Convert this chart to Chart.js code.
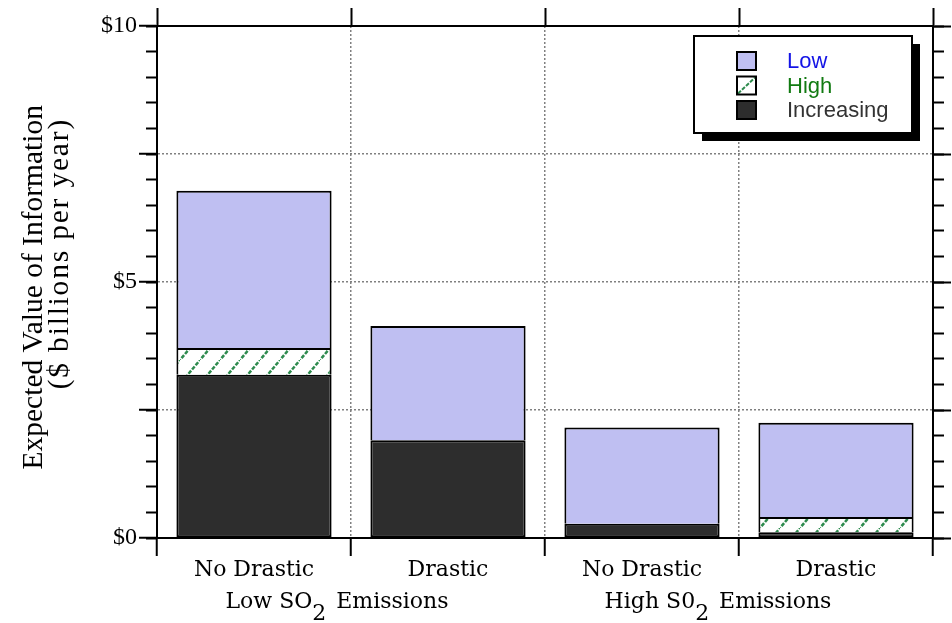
<!DOCTYPE html>
<html>
<head>
<meta charset="utf-8">
<script src="https://cdn.jsdelivr.net/npm/chart.js@4.4.1/dist/chart.umd.min.js"></script>
<style>
	html, body { margin: 0; padding: 0; background: #fff; }
	canvas { display: block; }
</style>
</head>
<body>
<canvas id="chart" width="952" height="623"></canvas>
<script>
const categories = ["No Drastic", "Drastic", "No Drastic", "Drastic"];
const groupLabels = [
	["Low SO", "2", " Emissions"],
	["High S0", "2", " Emissions"],
];
const increasing = [3.19, 1.91, 0.28, 0.11];
const high = [0.52, 0, 0, 0.3];
const low = [3.07, 2.23, 1.88, 1.84];
const labelledTicks = [0, 5, 10];
const yTitle = ["Expected Value of Information", "($ billions per year)"];

const LOW_FILL = "#bfbff2";
const INC_FILL = "#2d2d2d";
const HATCH_GREEN = "#2e8b4e";
const GRID = "#808080";
const CLEAR = "rgba(0,0,0,0)";
const SERIF = "'DejaVu Serif', serif";
const TIMES = "'Liberation Serif', serif";

const makeHatch = () => {
	const c = document.createElement("canvas");
	c.width = 20;
	c.height = 24;
	const g = c.getContext("2d");
	g.fillStyle = "#fff";
	g.fillRect(0, 0, 20, 24);
	g.strokeStyle = HATCH_GREEN;
	g.lineWidth = 2.5;
	g.setLineDash([4, 1.5]);
	g.beginPath();
	g.moveTo(-2, 26.4);
	g.lineTo(22, -2.4);
	g.stroke();
	return g.createPattern(c, "repeat");
};
const hatch = makeHatch();

const legendItems = [
	{ label: "Low", text: "#1414e6", fill: LOW_FILL },
	{ label: "High", text: "#117a11", fill: "hatch" },
	{ label: "Increasing", text: "#333333", fill: INC_FILL },
];

const decorations = {
	id: "decorations",
	afterDraw(chart) {
		const { ctx, chartArea: area, scales: { x } } = chart;

		// y axis title, two rotated lines, right aligned (end at the top)
		ctx.save();
		ctx.fillStyle = "#000";
		ctx.textAlign = "right";
		ctx.textBaseline = "alphabetic";
		ctx.font = `29.5px ${TIMES}`;
		ctx.translate(42, area.top + 79);
		ctx.rotate(-Math.PI / 2);
		ctx.fillText(yTitle[0], 0, 0);
		ctx.restore();

		ctx.save();
		ctx.fillStyle = "#000";
		ctx.textAlign = "right";
		ctx.font = `29.5px ${TIMES}`;
		ctx.letterSpacing = "1.8px";
		ctx.translate(68, area.top + 92);
		ctx.rotate(-Math.PI / 2);
		ctx.fillText(yTitle[1], 0, 0);
		ctx.restore();

		// group labels under each pair of bars
		ctx.save();
		ctx.fillStyle = "#000";
		ctx.textBaseline = "alphabetic";
		ctx.textAlign = "left";
		ctx.font = `22px ${SERIF}`;
		const baseY = area.bottom + 70;
		const shifts = [-14, -21];
		groupLabels.forEach((parts, g) => {
			const center =
				(x.getPixelForValue(g * 2) + x.getPixelForValue(g * 2 + 1)) / 2 +
				shifts[g];
			const widths = parts.map(p => ctx.measureText(p).width);
			const total = widths[0] + widths[1] + widths[2] + 3;
			let px = center - total / 2;
			ctx.fillText(parts[0], px, baseY);
			px += widths[0];
			ctx.fillText(parts[1], px, baseY + 12);
			px += widths[1] + 3;
			ctx.fillText(parts[2], px, baseY);
		});
		ctx.restore();

		// legend box with drop shadow
		const bx = area.right - 239;
		const by = area.top + 10;
		const bw = 218;
		const bh = 97;
		ctx.save();
		ctx.fillStyle = "#000";
		ctx.fillRect(bx + 8, by + 8, bw, bh);
		ctx.fillStyle = "#fff";
		ctx.fillRect(bx, by, bw, bh);
		ctx.lineWidth = 2;
		ctx.strokeStyle = "#000";
		ctx.strokeRect(bx, by, bw, bh);

		ctx.font = `22px 'Liberation Sans', sans-serif`;
		ctx.textBaseline = "middle";
		ctx.textAlign = "left";
		legendItems.forEach((item, i) => {
			const sx = bx + 43;
			const sy = by + 16 + i * 24.5;
			if (item.fill === "hatch") {
				ctx.fillStyle = "#fff";
				ctx.fillRect(sx, sy, 19, 18);
				ctx.save();
				ctx.strokeStyle = HATCH_GREEN;
				ctx.setLineDash([4, 1.5]);
				ctx.lineWidth = 2;
				ctx.beginPath();
				ctx.moveTo(sx + 1, sy + 17);
				ctx.lineTo(sx + 18, sy + 1);
				ctx.stroke();
				ctx.restore();
			} else {
				ctx.fillStyle = item.fill;
				ctx.fillRect(sx, sy, 19, 18);
			}
			ctx.strokeStyle = "#000";
			ctx.lineWidth = 2;
			ctx.strokeRect(sx, sy, 19, 18);
			ctx.fillStyle = item.text;
			ctx.fillText(item.label, bx + 93, sy + 10);
		});
		ctx.restore();
	},
};

const barCommon = {
	borderColor: "#000",
	borderSkipped: false,
	barPercentage: 0.8,
	categoryPercentage: 1,
	xAxisID: "x",
	yAxisID: "y",
};

const config = {
	type: "bar",
	plugins: [decorations],
	data: {
		labels: categories,
		datasets: [
			{
				...barCommon,
				label: "Increasing",
				data: increasing,
				backgroundColor: INC_FILL,
				borderWidth: { top: 2, bottom: 2, left: 2, right: 2 },
			},
			{
				...barCommon,
				label: "High",
				data: high,
				backgroundColor: hatch,
				borderWidth: { top: 2, bottom: 0, left: 2, right: 2 },
			},
			{
				...barCommon,
				label: "Low",
				data: low,
				backgroundColor: LOW_FILL,
				borderWidth: { top: 2, bottom: 0, left: 2, right: 2 },
			},
		],
	},
	options: {
		responsive: false,
		devicePixelRatio: 1,
		animation: false,
		layout: { padding: 0 },
		plugins: {
			legend: { display: false },
			tooltip: { enabled: false },
		},
		scales: {
			x: {
				type: "category",
				position: "bottom",
				stacked: true,
				offset: true,
				grid: {
					offset: true,
					color: c => (c.index > 0 && c.index < categories.length ? GRID : CLEAR),
					lineWidth: 1.5,
					tickColor: "#000",
					tickWidth: 2,
					tickLength: 18,
				},
				border: { color: "#000", width: 2, dash: [2, 2] },
				ticks: {
					color: "#000",
					font: { family: SERIF, size: 22 },
					padding: 1,
					maxRotation: 0,
				},
				afterFit: s => {
					s.height = 85;
				},
			},
			xt: {
				type: "category",
				labels: categories,
				position: "top",
				offset: true,
				grid: {
					offset: true,
					drawOnChartArea: false,
					tickColor: "#000",
					tickWidth: 2,
					tickLength: 18,
				},
				border: { color: "#000", width: 2 },
				ticks: { display: false },
				afterFit: s => {
					s.height = 26;
				},
			},
			y: {
				type: "linear",
				position: "left",
				stacked: true,
				min: 0,
				max: 10,
				weight: 10,
				ticks: {
					stepSize: 2.5,
					autoSkip: false,
					color: "#000",
					padding: 2,
					font: { family: TIMES, size: 24 },
					callback: v => (labelledTicks.includes(v) ? "$" + v : ""),
				},
				grid: {
					color: c => (c.tick && c.tick.value > 0 && c.tick.value < 10 ? GRID : CLEAR),
					lineWidth: 1.5,
					tickColor: "#000",
					tickWidth: 2,
					tickLength: 18,
				},
				border: { color: "#000", width: 2, dash: [2, 2] },
				afterFit: s => {
					s.width = 157;
				},
			},
			ym: {
				type: "linear",
				position: "left",
				min: 0,
				max: 10,
				weight: 0,
				ticks: { display: false, stepSize: 0.5 },
				grid: {
					drawOnChartArea: false,
					tickColor: "#000",
					tickWidth: 2,
					tickLength: 11,
				},
				border: { display: false },
				afterFit: s => {
					s.width = 0;
				},
			},
			yr: {
				type: "linear",
				position: "right",
				min: 0,
				max: 10,
				weight: 10,
				ticks: { display: false, stepSize: 2.5 },
				grid: {
					drawOnChartArea: false,
					tickColor: "#000",
					tickWidth: 2,
					tickLength: 18,
				},
				border: { color: "#000", width: 2 },
				afterFit: s => {
					s.width = 19;
				},
			},
			yrm: {
				type: "linear",
				position: "right",
				min: 0,
				max: 10,
				weight: 0,
				ticks: { display: false, stepSize: 0.5 },
				grid: {
					drawOnChartArea: false,
					tickColor: "#000",
					tickWidth: 2,
					tickLength: 11,
				},
				border: { display: false },
				afterFit: s => {
					s.width = 0;
				},
			},
		},
	},
};

new Chart(document.getElementById("chart"), config);
</script>
</body>
</html>
